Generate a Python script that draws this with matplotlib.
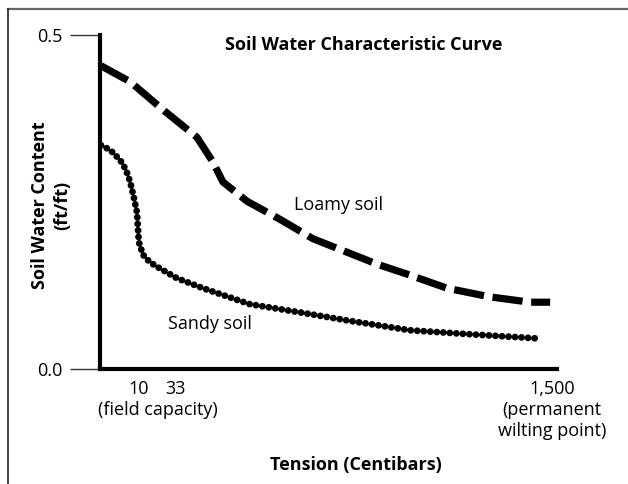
import numpy as np
import matplotlib.pyplot as plt
from matplotlib.lines import Line2D

plt.rcParams['font.family'] = ['Open Sans', 'DejaVu Sans']

# x is position along the tension axis (0 = left edge, 1 = right end of axis)
loamy_x = [0.002, 0.066, 0.138, 0.212, 0.247, 0.269, 0.322, 0.394, 0.466,
           0.540, 0.606, 0.672, 0.759, 0.853, 0.941, 0.985]
loamy_y = [0.454, 0.430, 0.388, 0.347, 0.310, 0.280, 0.251, 0.224, 0.195,
           0.175, 0.157, 0.142, 0.121, 0.108, 0.100, 0.100]

sandy_x = [0.002, 0.022, 0.044, 0.057, 0.066, 0.074, 0.081, 0.083, 0.085,
           0.094, 0.109, 0.125, 0.168, 0.225, 0.328, 0.444, 0.547, 0.678,
           0.810, 0.952]
sandy_y = [0.335, 0.328, 0.313, 0.298, 0.280, 0.257, 0.234, 0.211, 0.190,
           0.171, 0.160, 0.153, 0.136, 0.121, 0.097, 0.084, 0.072, 0.058,
           0.052, 0.046]

xtick_pos = [0.085, 0.166, 0.989]
xtick_labels = ['10', '33', '1,500\n(permanent\nwilting point)']
ytick_vals = [0.0, 0.5]
ytick_labels = ['0.0', '0.5']

FS = 13

fig = plt.figure(figsize=(6.28, 4.84), dpi=100)
ax = fig.add_axes([100/628, 1 - 369/484, 457/628, 334/484])

ax.plot(loamy_x, loamy_y, color='black', linewidth=5.2,
        dashes=(4.2, 1.2), dash_capstyle='butt', solid_joinstyle='round')
ax.plot(sandy_x, sandy_y, color='black', linewidth=4.9,
        dashes=(0.01, 0.95), dash_capstyle='round')

ax.set_xlim(0, 1)
ax.set_ylim(0, 0.5)
for s in ['top', 'right']:
    ax.spines[s].set_visible(False)
for s in ['left', 'bottom']:
    ax.spines[s].set_linewidth(3)
    ax.spines[s].set_capstyle('projecting')

ax.set_yticks(ytick_vals, ytick_labels)
ax.tick_params(axis='y', length=21.5, width=1, color='#333333', pad=5.5,
               labelsize=FS)
ax.set_xticks(xtick_pos, xtick_labels)
ax.tick_params(axis='x', length=0, pad=8, labelsize=FS)
for lab in ax.get_xticklabels():
    lab.set_linespacing(1.22)
    lab.set_verticalalignment('top')

fig.text(364/628, 1 - 45/484, 'Soil Water Characteristic Curve',
         ha='center', va='center', fontsize=FS, fontweight='bold')
fig.text(40/628, 1 - 205/484, 'Soil Water Content', rotation=90,
         ha='center', va='center', fontsize=FS, fontweight='bold')
fig.text(62/628, 1 - 205/484, '(ft/ft)', rotation=90,
         ha='center', va='center', fontsize=FS, fontweight='bold')
fig.text(338/628, 1 - 205/484, 'Loamy soil', ha='center', va='center',
         fontsize=FS)
fig.text(210/628, 1 - 324/484, 'Sandy soil', ha='center', va='center',
         fontsize=FS)
fig.text(158/628, 1 - 410/484, '(field capacity)', ha='center', va='center',
         fontsize=FS)
fig.text(356/628, 1 - 465/484, 'Tension (Centibars)', ha='center',
         va='center', fontsize=FS, fontweight='bold')

# partial frame (top and left edges)
fig.add_artist(Line2D([8/628, 1], [1 - 9/484, 1 - 9/484], color='#666666',
                      linewidth=1.6, transform=fig.transFigure))
fig.add_artist(Line2D([8/628, 8/628], [0, 1 - 9/484], color='#222222',
                      linewidth=1.2, transform=fig.transFigure))

fig.savefig('out.png', dpi=100)
